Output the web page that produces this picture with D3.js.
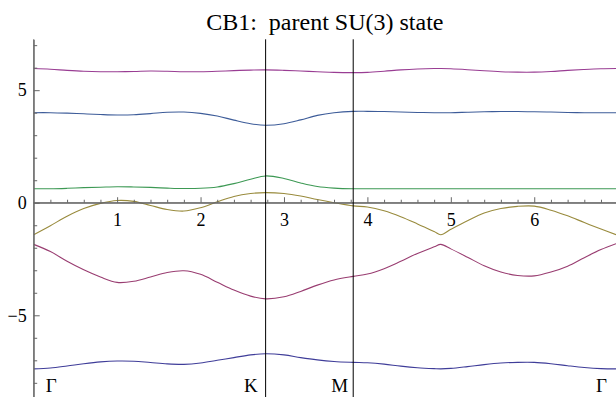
<!DOCTYPE html>
<html>
<head>
<meta charset="utf-8">
<script src="https://cdn.jsdelivr.net/npm/d3@7"></script>
<style>
  html, body { margin: 0; padding: 0; background: #fff; }
  svg { display: block; }
</style>
</head>
<body>
<svg id="chart" width="616" height="397"></svg>
<script>
// ---- data ----
const titleText = "CB1:  parent SU(3) state";
const kPath = [0, 0.2, 0.4, 0.6, 0.8, 1.0, 1.2, 1.4, 1.6, 1.8, 2.0, 2.2, 2.4, 2.6, 2.78,
  3.0, 3.2, 3.4, 3.6, 3.83, 4.0, 4.2, 4.4, 4.6, 4.8, 4.88, 5.0, 5.2, 5.4, 5.6, 5.8,
  6.0, 6.2, 6.4, 6.6, 6.8, 6.98];
const band1 = [-7.38, -7.34, -7.25, -7.15, -7.07, -7.03, -7.04, -7.10, -7.16, -7.18, -7.12, -7.00, -6.88, -6.76, -6.71,
  -6.76, -6.88, -6.98, -7.05, -7.09, -7.11, -7.17, -7.26, -7.33, -7.37, -7.38, -7.36, -7.28, -7.19, -7.12, -7.09,
  -7.09, -7.15, -7.24, -7.32, -7.37, -7.38];
const band2 = [-1.85, -2.17, -2.60, -2.98, -3.30, -3.54, -3.49, -3.30, -3.10, -3.02, -3.18, -3.53, -3.88, -4.15, -4.27,
  -4.18, -3.94, -3.66, -3.43, -3.27, -3.17, -2.93, -2.60, -2.25, -1.96, -1.85, -2.05, -2.42, -2.80, -3.08, -3.23,
  -3.25, -3.08, -2.82, -2.44, -2.08, -1.82];
const band3 = [-1.42, -1.02, -0.60, -0.26, -0.03, 0.10, 0.06, -0.12, -0.30, -0.37, -0.22, 0.04, 0.28, 0.41, 0.45,
  0.41, 0.30, 0.14, 0.00, -0.14, -0.19, -0.36, -0.62, -0.94, -1.28, -1.42, -1.18, -0.80, -0.46, -0.26, -0.16,
  -0.15, -0.33, -0.58, -0.88, -1.17, -1.42];
const band4 = [0.62, 0.62, 0.64, 0.67, 0.69, 0.71, 0.70, 0.68, 0.65, 0.63, 0.64, 0.70, 0.85, 1.04, 1.19,
  1.08, 0.88, 0.72, 0.65, 0.62, 0.62, 0.62, 0.62, 0.62, 0.62, 0.62, 0.62, 0.62, 0.62, 0.62, 0.62,
  0.62, 0.62, 0.62, 0.62, 0.62, 0.62];
const band5 = [4.00, 4.00, 3.98, 3.95, 3.92, 3.90, 3.91, 3.96, 4.02, 4.03, 3.97, 3.85, 3.67, 3.51, 3.44,
  3.51, 3.68, 3.88, 4.00, 4.06, 4.06, 4.05, 4.03, 4.01, 4.00, 4.00, 4.00, 4.02, 4.04, 4.05, 4.05,
  4.04, 4.03, 4.01, 4.00, 4.00, 4.00];
const band6 = [5.96, 5.93, 5.88, 5.84, 5.82, 5.82, 5.83, 5.85, 5.84, 5.82, 5.82, 5.84, 5.87, 5.89, 5.90,
  5.88, 5.85, 5.82, 5.79, 5.78, 5.79, 5.84, 5.90, 5.94, 5.96, 5.96, 5.95, 5.91, 5.86, 5.82, 5.80,
  5.80, 5.83, 5.88, 5.92, 5.95, 5.96];
const bandColors = ["rgb(63,61,153)", "rgb(153,61,113)", "rgb(153,139,61)",
                    "rgb(61,153,84)", "rgb(61,92,153)", "rgb(153,61,147)"];
const symPoints = [0, 2.78, 3.83, 6.98];
const symLabels = ["Γ", "K", "M", "Γ"];
const xMajorTicks = [1, 2, 3, 4, 5, 6];
const yMajorTicks = [-5, 0, 5];

// ---- drawing ----
const svg = d3.select("#chart");
const x = d3.scaleLinear().domain([0, 6.98]).range([33.7, 616]);
const y = d3.scaleLinear().domain([-8.63, 7.26]).range([397, 39.3]);
const font = "'Liberation Serif', 'Times New Roman', serif";
const axisColor = "#666";

// title
svg.append("text")
  .attr("x", (x.range()[0] + x.range()[1]) / 2)
  .attr("y", 30)
  .attr("text-anchor", "middle")
  .attr("font-family", font)
  .attr("font-size", 24)
  .attr("fill", "#000")
  .style("white-space", "pre")
  .attr("xml:space", "preserve")
  .text(titleText);

// bands
const bands = [band1, band2, band3, band4, band5, band6];
const line = d3.line().x(d => x(d[0])).y(d => y(d[1])).curve(d3.curveCatmullRom.alpha(0.5));
const plot = svg.append("g");
plot.append("clipPath").attr("id", "clip").append("rect")
  .attr("x", x.range()[0]).attr("y", y.range()[1])
  .attr("width", x.range()[1] - x.range()[0]).attr("height", y.range()[0] - y.range()[1]);
bands.forEach((b, i) => {
  plot.append("path")
    .datum(kPath.map((k, j) => [k, b[j]]))
    .attr("fill", "none")
    .attr("stroke", bandColors[i])
    .attr("stroke-width", 1.1)
    .attr("clip-path", "url(#clip)")
    .attr("d", line);
});

// x axis (at y = 0)
const xMinor = d3.range(1, 35).map(i => i * 0.2).filter(v => Math.abs(v - Math.round(v)) > 1e-6);
const gxMinor = svg.append("g").attr("transform", `translate(0,${y(0)})`)
  .call(d3.axisBottom(x).tickValues(xMinor).tickSizeInner(-3).tickSizeOuter(0).tickFormat(""));
const gx = svg.append("g").attr("transform", `translate(0,${y(0)})`)
  .call(d3.axisBottom(x).tickValues(xMajorTicks).tickSizeInner(-5.5).tickSizeOuter(0)
    .tickPadding(11).tickFormat(d3.format("d")));

// y axis (at x = 0)
const yMinor = d3.range(-8, 8).filter(v => v % 5 !== 0);
const gyMinor = svg.append("g").attr("transform", `translate(${x(0)},0)`)
  .call(d3.axisLeft(y).tickValues(yMinor).tickSizeInner(-3.5).tickSizeOuter(0).tickFormat(""));
const gy = svg.append("g").attr("transform", `translate(${x(0)},0)`)
  .call(d3.axisLeft(y).tickValues(yMajorTicks).tickSizeInner(-6).tickSizeOuter(0)
    .tickPadding(7).tickFormat(d3.format("d")));

[gxMinor, gx, gyMinor, gy].forEach(g => {
  g.selectAll("path.domain").attr("stroke", axisColor).attr("stroke-width", 1);
  g.selectAll(".tick line").attr("stroke", axisColor).attr("stroke-width", 1);
  g.selectAll(".tick text").attr("fill", "#000").attr("font-family", font).attr("font-size", 18);
});
gx.select("path.domain").attr("d", `M${x.range()[0]},0H${x.range()[1]}`);
gy.select("path.domain").attr("d", `M0,${y.range()[0]}V${y.range()[1]}`);

// vertical lines at K and M
svg.append("g").selectAll("line")
  .data(symPoints.slice(1, 3))
  .join("line")
  .attr("x1", d => x(d)).attr("x2", d => x(d))
  .attr("y1", y.range()[1]).attr("y2", y.range()[0])
  .attr("stroke", "#000").attr("stroke-width", 1);

// symmetry point labels
const labelY = y(-8.42);
svg.append("g").selectAll("text")
  .data(symPoints.map((p, i) => ({ p, t: symLabels[i], i })))
  .join("text")
  .attr("x", d => d.i === 0 ? x(d.p) + 12 : (d.i === 3 ? x(d.p) - 9 : (d.i === 1 ? x(d.p) - 8 : x(d.p) - 5)))
  .attr("y", labelY)
  .attr("text-anchor", d => d.i === 0 ? "start" : "end")
  .attr("font-family", font)
  .attr("font-size", 19)
  .attr("fill", "#000")
  .text(d => d.t);
</script>
</body>
</html>
